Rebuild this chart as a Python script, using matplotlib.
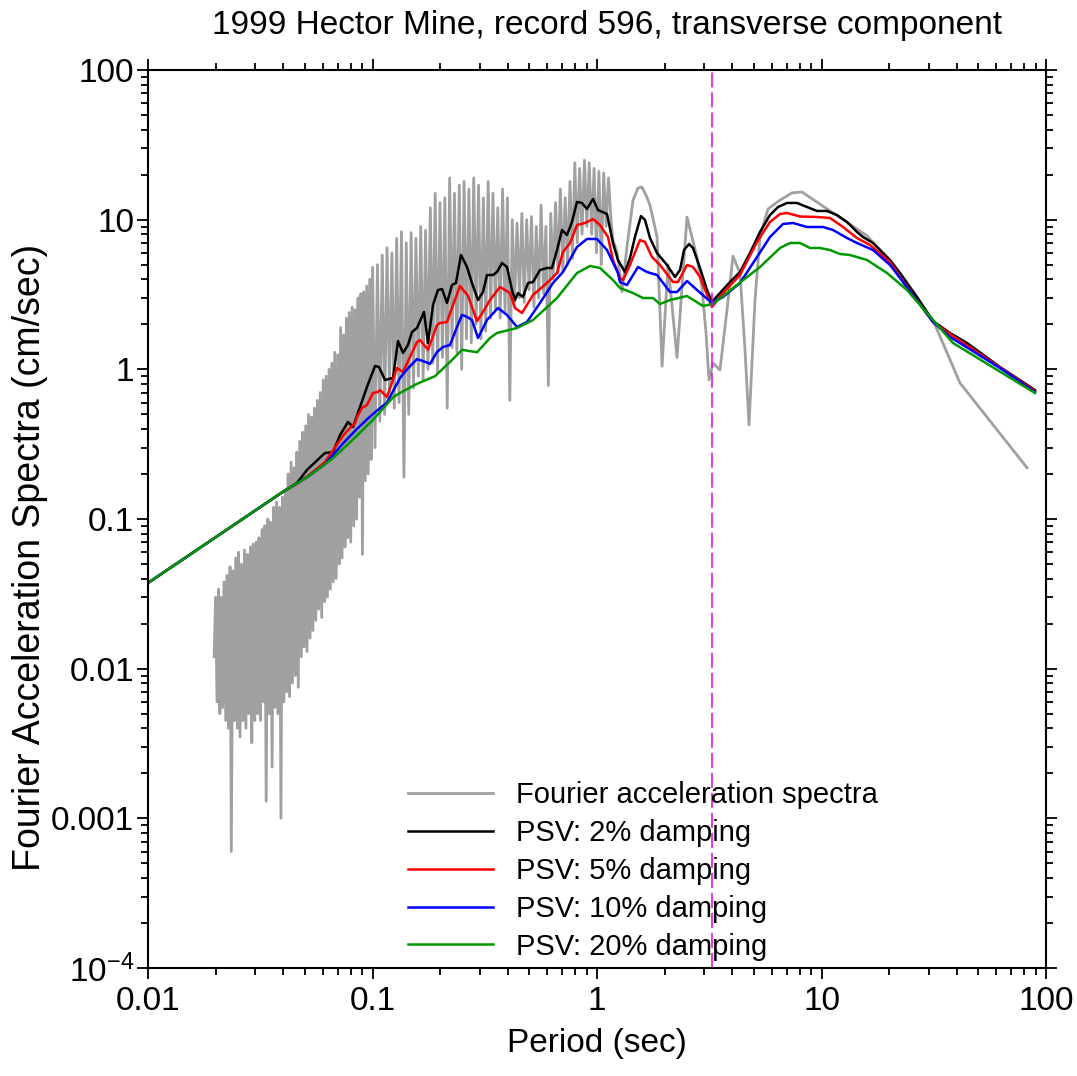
import matplotlib
matplotlib.use("Agg")
import matplotlib.pyplot as plt

plt.rcParams['font.family'] = ['Liberation Sans', 'DejaVu Sans']
plt.rcParams['mathtext.fontset'] = 'custom'
plt.rcParams['mathtext.rm'] = 'Liberation Sans'

# Fourier acceleration spectra (periods in sec, values in cm/sec)
fas_period = [0.0197, 0.0200, 0.0203, 0.0206, 0.0209, 0.0212, 0.0215, 0.0218, 0.0222, 0.0225,
              0.0228, 0.0232, 0.0235, 0.0239, 0.0242, 0.0246, 0.0250, 0.0253, 0.0257, 0.0261,
              0.0265, 0.0269, 0.0273, 0.0277, 0.0281, 0.0286, 0.0290, 0.0294, 0.0299, 0.0303,
              0.0308, 0.0312, 0.0317, 0.0322, 0.0327, 0.0331, 0.0336, 0.0342, 0.0347, 0.0352,
              0.0357, 0.0363, 0.0368, 0.0374, 0.0379, 0.0385, 0.0391, 0.0397, 0.0403, 0.0409,
              0.0415, 0.0421, 0.0427, 0.0434, 0.0440, 0.0447, 0.0454, 0.0460, 0.0467, 0.0474,
              0.0482, 0.0489, 0.0496, 0.0504, 0.0511, 0.0519, 0.0527, 0.0535, 0.0543, 0.0551,
              0.0559, 0.0568, 0.0576, 0.0585, 0.0594, 0.0603, 0.0612, 0.0621, 0.0630, 0.0640,
              0.0649, 0.0659, 0.0669, 0.0679, 0.0689, 0.0700, 0.0710, 0.0721, 0.0732, 0.0743,
              0.0754, 0.0765, 0.0777, 0.0788, 0.0800, 0.0812, 0.0825, 0.0837, 0.0850, 0.0862,
              0.0875, 0.0888, 0.0902, 0.0915, 0.0929, 0.0943, 0.0957, 0.0972, 0.0986, 0.1001,
              0.1026, 0.1052, 0.1078, 0.1105, 0.1133, 0.1161, 0.1190, 0.1220, 0.1250, 0.1281,
              0.1313, 0.1346, 0.1380, 0.1414, 0.1450, 0.1486, 0.1523, 0.1561, 0.1600, 0.1640,
              0.1681, 0.1723, 0.1766, 0.1810, 0.1856, 0.1902, 0.1950, 0.1998, 0.2048, 0.2100,
              0.2152, 0.2206, 0.2261, 0.2318, 0.2376, 0.2435, 0.2496, 0.2558, 0.2622, 0.2688,
              0.2755, 0.2824, 0.2894, 0.2967, 0.3041, 0.3117, 0.3195, 0.3275, 0.3357, 0.3440,
              0.3526, 0.3614, 0.3705, 0.3797, 0.3892, 0.3990, 0.4089, 0.4192, 0.4296, 0.4404,
              0.4514, 0.4627, 0.4742, 0.4861, 0.4982, 0.5107, 0.5235, 0.5365, 0.5500, 0.5637,
              0.5778, 0.5922, 0.6071, 0.6222, 0.6378, 0.6537, 0.6701, 0.6868, 0.7040, 0.7216,
              0.7396, 0.7581, 0.7771, 0.7965, 0.8164, 0.8368, 0.8577, 0.8792, 0.9012, 0.9237,
              0.9468, 0.9705, 0.9947, 1.0196, 1.0451, 1.0712, 1.0980, 1.1255, 1.1536,
              1.178, 1.228, 1.292, 1.360, 1.447, 1.523, 1.586, 1.653, 1.722, 1.851,
              1.949, 2.072, 2.272, 2.517, 2.789, 2.936, 3.059, 3.155, 3.287, 3.530,
              3.794, 4.035, 4.335, 4.563, 4.754, 5.056, 5.322, 5.777, 6.535, 7.389,
              8.188, 11.25, 15.95, 19.58, 24.04, 31.39, 41.4, 82.3]
fas_value = [0.012, 0.030, 0.006, 0.034, 0.005, 0.030, 0.0055, 0.038, 0.0045, 0.042,
             0.004, 0.048, 0.0006, 0.045, 0.0045, 0.055, 0.004, 0.060, 0.0035, 0.050,
             0.0045, 0.062, 0.004, 0.058, 0.005, 0.065, 0.0032, 0.068, 0.0045, 0.070,
             0.005, 0.075, 0.0045, 0.085, 0.006, 0.09, 0.0013, 0.10, 0.005, 0.095,
             0.0022, 0.12, 0.0055, 0.13, 0.005, 0.12, 0.001, 0.14, 0.006, 0.15,
             0.007, 0.2, 0.0065, 0.24, 0.008, 0.22, 0.009, 0.28, 0.0075, 0.33,
             0.012, 0.38, 0.014, 0.42, 0.013, 0.5, 0.016, 0.48, 0.018, 0.55,
             0.021, 0.62, 0.025, 0.7, 0.022, 0.85, 0.028, 0.9, 0.03, 1.0,
             0.034, 1.1, 0.038, 1.3, 0.04, 1.25, 0.05, 1.9, 0.055, 1.7,
             0.065, 2.2, 0.075, 2.4, 0.07, 2.6, 0.09, 2.5, 0.1, 3.0,
             0.14, 3.2, 0.058, 3.3, 0.18, 3.6, 0.2, 4.0, 0.25, 4.8,
             0.3, 5.0, 0.45, 5.8, 0.5, 6.5, 0.7, 6.0, 0.55, 7.5,
             0.6, 8.3, 0.19, 7.0, 0.5, 8.2, 0.75, 7.5, 0.9, 9.0,
             0.85, 8.5, 1.0, 12, 1.1, 15, 0.95, 13, 1.2, 14,
             0.55, 19, 1.4, 15, 1.3, 17, 1.0, 18, 1.6, 16,
             1.5, 19, 2.0, 17, 1.6, 14, 1.8, 18, 2.2, 15,
             2.5, 12, 2.2, 16, 2.4, 14, 0.62, 10, 2.8, 9.5,
             3.0, 11, 2.8, 10, 3.4, 10.5, 2.6, 9, 3.0, 12.5,
             3.2, 9, 0.78, 11, 4.0, 13, 4.4, 16, 4.5, 14,
             5.0, 18, 5.5, 24, 7.0, 22, 8.0, 25, 9.0, 24,
             8.0, 22, 6.0, 21, 5.0, 20.5, 9.0, 19, 10,
             7.3, 6.1, 3.3, 6.6, 13.5, 16.3, 16.5, 14.6, 12.5, 7.7,
             1.05, 5.0, 1.2, 10.4, 5.6, 3.5, 1.75, 0.85, 1.10, 0.99,
             2.5, 5.7, 4.4, 1.35, 0.425, 2.9, 7.7, 11.8, 13.5, 15.1,
             15.3, 11.1, 7.8, 5.6, 3.5, 2.13, 0.81, 0.22]

# PSV, 2% damping
psv2_period = [0.01, 0.0399, 0.0461, 0.0511, 0.0614, 0.0667, 0.0717, 0.0778, 0.0819, 0.0945,
               0.1026, 0.1069, 0.1137, 0.1234, 0.1299, 0.1367, 0.1439, 0.1499, 0.1578, 0.1696,
               0.1767, 0.1860, 0.1957, 0.2040, 0.2147, 0.2259, 0.2354, 0.2478, 0.2636, 0.2774,
               0.2951, 0.3106, 0.3236, 0.3441, 0.3586, 0.3774, 0.3972, 0.4181, 0.4311, 0.4447,
               0.4681, 0.4928, 0.5187, 0.5572, 0.5988, 0.6304, 0.6635, 0.6984, 0.7353, 0.7737,
               0.8144, 0.8574, 0.9025, 0.9598, 1.0104, 1.108, 1.178, 1.240, 1.332, 1.403,
               1.476, 1.570, 1.636, 1.722, 1.851, 2.050, 2.226, 2.343, 2.441, 2.570,
               2.677, 2.876, 3.090, 3.252, 3.530, 3.912, 4.335, 4.803, 5.322, 5.896,
               6.401, 7.020, 7.780, 8.619, 9.550, 10.58, 11.72, 12.99, 14.39, 15.31,
               16.96, 18.79, 20.19, 22.37, 26.64, 31.39, 37.36, 44.48, 62.39, 89.3]
psv2_value = [0.0374, 0.152, 0.174, 0.213, 0.276, 0.280, 0.364, 0.445, 0.412, 0.762,
              1.053, 1.036, 0.849, 0.875, 1.546, 1.286, 1.454, 1.776, 1.889, 2.416,
              1.500, 2.691, 3.389, 3.441, 2.775, 3.660, 3.775, 5.806, 4.829, 3.775,
              2.906, 3.286, 4.268, 4.268, 4.470, 5.134, 4.829, 3.389, 2.906, 3.236,
              3.043, 3.775, 3.832, 4.610, 4.755, 4.755, 6.270, 8.531, 7.900, 9.647,
              13.13, 12.93, 11.78, 13.75, 11.60, 10.91, 6.985, 5.377, 4.470, 5.545,
              7.660, 10.58, 9.95, 7.543, 5.987, 4.980, 4.139, 4.610, 6.270, 6.878,
              6.467, 4.755, 3.389, 2.818, 3.236, 3.832, 4.470, 5.987, 8.272, 10.74,
              12.15, 12.93, 12.93, 12.15, 11.43, 11.43, 10.74, 9.647, 8.272, 7.660,
              6.985, 5.987, 5.377, 4.402, 3.043, 2.104, 1.748, 1.500, 1.036, 0.7275]

# PSV, 5% damping
psv5_period = [0.01, 0.0399, 0.0461, 0.0511, 0.0614, 0.0717, 0.0739, 0.0778, 0.0836, 0.0853,
               0.0898, 0.0945, 0.1005, 0.1058, 0.1080, 0.1160, 0.1285, 0.1367, 0.1578, 0.1627,
               0.1767, 0.1938, 0.1999, 0.2147, 0.2284, 0.2453, 0.2663, 0.2921, 0.3106, 0.3337,
               0.3697, 0.4097, 0.4311, 0.4633, 0.5187, 0.5988, 0.6635, 0.7057, 0.7583, 0.8144,
               0.8842, 0.9598, 1.031, 1.119, 1.178, 1.266, 1.306, 1.403, 1.554, 1.636,
               1.758, 1.908, 2.181, 2.295, 2.517, 2.677, 2.876, 3.252, 3.641, 4.335,
               5.161, 5.896, 6.535, 7.020, 8.022, 9.550, 10.91, 12.47, 14.39, 16.44,
               18.79, 20.19, 22.37, 31.39, 37.36, 62.39, 89.3]
psv5_value = [0.0374, 0.152, 0.172, 0.192, 0.240, 0.337, 0.360, 0.393, 0.438, 0.480,
              0.552, 0.578, 0.695, 0.706, 0.728, 0.653, 1.021, 0.960, 1.523, 1.570,
              1.35, 1.978, 2.04, 2.07, 2.691, 3.604, 3.1, 2.1, 2.416, 2.906,
              3.549, 3.236, 2.570, 2.379, 3.139, 3.775, 4.402, 6.081, 6.985, 9.213,
              9.500, 10.10, 9.213, 7.660, 5.377, 4.076, 3.953, 4.980, 7.314, 7.092,
              5.630, 4.980, 3.832, 3.832, 4.980, 4.829, 4.139, 2.609, 3.236, 4.268,
              7.092, 9.647, 10.91, 11.08, 10.5, 10.42, 10.26, 8.933, 7.543, 6.773,
              5.718, 5.215, 4.139, 2.072, 1.722, 1.03, 0.7167]

# PSV, 10% damping
psv10_period = [0.01, 0.0399, 0.0511, 0.0614, 0.0739, 0.0853, 0.0955, 0.1047, 0.1160, 0.1285,
                0.1326, 0.1425, 0.1578, 0.1627, 0.1749, 0.1803, 0.1938, 0.2061, 0.2214, 0.2379,
                0.2504, 0.2636, 0.2774, 0.2951, 0.3236, 0.3622, 0.3972, 0.4403, 0.4877, 0.5572,
                0.6368, 0.7057, 0.8144, 0.9025, 1.000, 1.108, 1.240, 1.266, 1.360, 1.523,
                1.670, 1.851, 2.115, 2.272, 2.517, 2.789, 3.252, 3.641, 4.335, 5.161,
                5.896, 6.737, 7.467, 8.619, 10.16, 11.25, 12.99, 14.39, 16.96, 20.19,
                22.37, 31.39, 37.36, 62.39, 89.3]
psv10_value = [0.0374, 0.152, 0.19, 0.232, 0.32, 0.40, 0.47, 0.53, 0.60, 0.80,
               0.875, 1.0, 1.17, 1.154, 1.11, 1.086, 1.306, 1.410, 1.454, 1.919,
               2.31, 2.24, 2.136, 1.62, 2.136, 2.570, 2.307, 1.919, 2.072, 2.775,
               3.775, 4.470, 6.568, 7.429, 7.429, 6.270, 4.402, 3.832, 3.660, 4.829,
               4.470, 4.268, 3.286, 3.286, 3.893, 3.389, 2.775, 3.043, 3.775, 5.630,
               7.660, 9.357, 9.500, 8.933, 8.933, 8.531, 7.543, 6.985, 6.270, 4.980,
               4.076, 2.072, 1.645, 1.02, 0.7056]

# PSV, 20% damping
psv20_period = [0.01, 0.0399, 0.0511, 0.0667, 0.0819, 0.1005, 0.1234, 0.1326, 0.1578, 0.1898,
                0.2214, 0.2504, 0.2921, 0.3337, 0.3586, 0.4403, 0.5187, 0.6635, 0.8144, 0.9307,
                1.031, 1.178, 1.266, 1.447, 1.603, 1.776, 1.908, 2.115, 2.517, 2.966,
                3.287, 4.035, 5.322, 6.535, 7.239, 8.022, 8.888, 9.847, 10.91, 12.09,
                13.40, 15.95, 19.58, 24.04, 31.39, 38.53, 89.3]
psv20_value = [0.0374, 0.152, 0.19, 0.255, 0.34, 0.46, 0.65, 0.695, 0.80, 0.90,
               1.12, 1.35, 1.30, 1.62, 1.75, 1.889, 2.136, 2.996, 4.402, 4.904,
               4.755, 3.953, 3.494, 3.236, 2.996, 2.996, 2.733, 2.906, 3.090, 2.650,
               2.733, 3.494, 4.829, 6.467, 6.985, 6.985, 6.467, 6.467, 6.270, 5.896,
               5.806, 5.377, 4.402, 3.389, 2.136, 1.500, 0.6948]

marker_period = 3.25

x_ticks = [0.01, 0.1, 1, 10, 100]
x_labels = ['0.01', '0.1', '1', '10', '100']
y_ticks = [1e-4, 1e-3, 1e-2, 1e-1, 1, 10, 100]
y_labels = [r'$\mathregular{10^{-4}}$', '0.001', '0.01', '0.1', '1', '10', '100']

fig = plt.figure(figsize=(10.77, 10.76), dpi=100)
ax = fig.add_axes([148 / 1077, 1 - 968 / 1076, 898 / 1077, 898 / 1076])

lw = 1.8
ax.plot(fas_period, fas_value, color='#a0a0a0', lw=2.0, label='Fourier acceleration spectra')
ax.plot(psv2_period, psv2_value, color='black', lw=lw, label='PSV: 2% damping')
ax.plot(psv5_period, psv5_value, color='#ff0000', lw=lw, label='PSV: 5% damping')
ax.plot(psv10_period, psv10_value, color='#0000ff', lw=lw, label='PSV: 10% damping')
ax.plot(psv20_period, psv20_value, color='#009900', lw=lw, label='PSV: 20% damping')
ax.axvline(marker_period, color='#e000e0', lw=1.1, linestyle=(0, (9.8, 3.3)))

ax.set_xscale('log')
ax.set_yscale('log')
ax.set_xlim(0.01, 100)
ax.set_ylim(1e-4, 100)
ax.set_xticks(x_ticks)
ax.set_xticklabels(x_labels)
ax.set_yticks(y_ticks)
ax.set_yticklabels(y_labels)

ax.tick_params(which='both', direction='out', top=True, right=True, width=1.3)
ax.tick_params(which='major', length=8, labelsize=24)
ax.tick_params(which='minor', length=5)
ax.tick_params(axis='y', pad=2)
ax.tick_params(axis='x', pad=5)
for s in ax.spines.values():
    s.set_linewidth(1.5)

ax.set_xlabel('Period (sec)', fontsize=24, labelpad=8)
ax.set_ylabel('Fourier Acceleration Spectra (cm/sec)', fontsize=27)
ax.yaxis.set_label_coords(48 / 1077, 1 - 557 / 1076, transform=fig.transFigure)
ax.set_title('1999 Hector Mine, record 596, transverse component', fontsize=24, pad=26, x=0.511)

ax.legend(loc='upper left', bbox_to_anchor=(0.2895, 0.2082), frameon=False, fontsize=21,
          handlelength=2.9, handletextpad=0.8, labelspacing=0.34, borderpad=0, borderaxespad=0)

fig.savefig('out.png', dpi=100)
